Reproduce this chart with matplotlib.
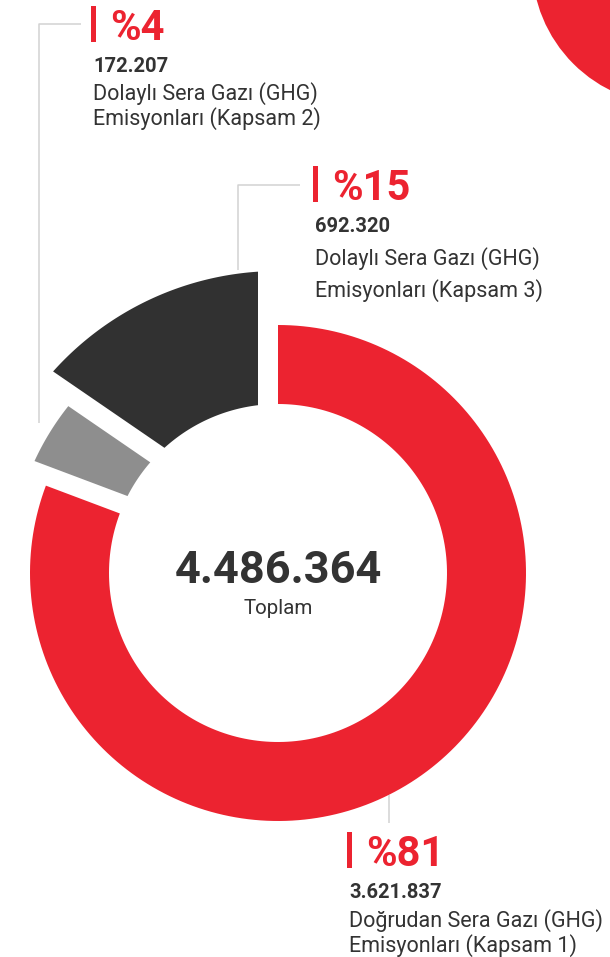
import numpy as np
import matplotlib
matplotlib.use("Agg")
import matplotlib.pyplot as plt
from matplotlib.patches import Polygon, Circle, Rectangle

# data
values = [3621837, 172207, 692320]
value_labels = ["3.621.837", "172.207", "692.320"]
name_lines = [
    ["Doğrudan Sera Gazı (GHG)", "Emisyonları (Kapsam 1)"],
    ["Dolaylı Sera Gazı (GHG)", "Emisyonları (Kapsam 2)"],
    ["Dolaylı Sera Gazı (GHG)", "Emisyonları (Kapsam 3)"],
]
total_name = "Toplam"
colors = ["#EC2330", "#8E8E8E", "#313131"]

RED = "#EC2330"
TXT = "#333333"
LINE = "#D2D2D2"
plt.rcParams["font.family"] = ["Roboto", "DejaVu Sans"]

# layout (pixel units, y down)
cx, cy = 278, 573
r_in = 169
r_out = [248, 268, 302]
# perpendicular offset of start / end edge (clockwise positive)
edge_off = [(0, 0), (19, 19), (39, -20)]
# label anchors: bar x, pct baseline, line spacing after value
anchors = [(347, 866, 29, 25), (91, 40, 28, 25), (313, 200, 33, 32)]
leaders = [
    [(389, 795), (389, 823)],
    [(81, 24), (39, 24), (39, 423)],
    [(300, 185), (238, 185), (238, 270)],
]

fig = plt.figure(figsize=(6.1, 9.57), dpi=100)
ax = fig.add_axes([0, 0, 1, 1])
ax.set_xlim(0, 610)
ax.set_ylim(957, 0)
ax.axis("off")

total = sum(values)
fracs = np.array(values) / total
ends = np.cumsum(fracs) * 360
starts = ends - fracs * 360


def pt(phi, rho):
    a = np.radians(phi)
    return cx + rho * np.sin(a), cy - rho * np.cos(a)


for i in range(len(values)):
    d1, d2 = edge_off[i]
    R = r_out[i]
    a1o = starts[i] + np.degrees(np.arcsin(d1 / R))
    a2o = ends[i] + np.degrees(np.arcsin(d2 / R))
    a1i = starts[i] + np.degrees(np.arcsin(d1 / r_in))
    a2i = ends[i] + np.degrees(np.arcsin(d2 / r_in))
    outer = np.linspace(a1o, a2o, 200)
    inner = np.linspace(a2i, a1i, 200)
    xs = list(pt(outer, R)[0]) + list(pt(inner, r_in)[0])
    ys = list(pt(outer, R)[1]) + list(pt(inner, r_in)[1])
    ax.add_patch(Polygon(np.column_stack([xs, ys]), closed=True,
                         facecolor=colors[i], edgecolor="none"))

# decorative circle top right
ax.add_patch(Circle((673, -36), 141, facecolor=RED, edgecolor="none"))

for seg in leaders:
    xs, ys = zip(*seg)
    ax.plot(xs, ys, color=LINE, lw=1.1, solid_capstyle="butt")

for i in range(len(values)):
    bx, base, sp1, sp2 = anchors[i]
    ax.add_patch(Rectangle((bx, base - 34), 5, 36, facecolor=RED,
                           edgecolor="none"))
    pct = "%" + str(int(round(fracs[i] * 100)))
    ax.text(bx + 19, base, pct, color=RED, fontsize=30, fontweight="bold",
            va="baseline", ha="left")
    ax.text(bx + 2, base + 32, value_labels[i], color=TXT, fontsize=14.5,
            fontweight="bold", va="baseline", ha="left")
    ax.text(bx + 2, base + 32 + sp1, name_lines[i][0], color=TXT,
            fontsize=15.5, va="baseline", ha="left")
    ax.text(bx + 2, base + 32 + sp1 + sp2, name_lines[i][1], color=TXT,
            fontsize=15.5, va="baseline", ha="left")

total_label = f"{total:,}".replace(",", ".")
ax.text(cx, 583, total_label, color=TXT, fontsize=32.5, fontweight="bold",
        ha="center", va="baseline")
ax.text(cx, 614, total_name, color=TXT, fontsize=14.8, ha="center",
        va="baseline")

fig.savefig("out.png", dpi=100)
